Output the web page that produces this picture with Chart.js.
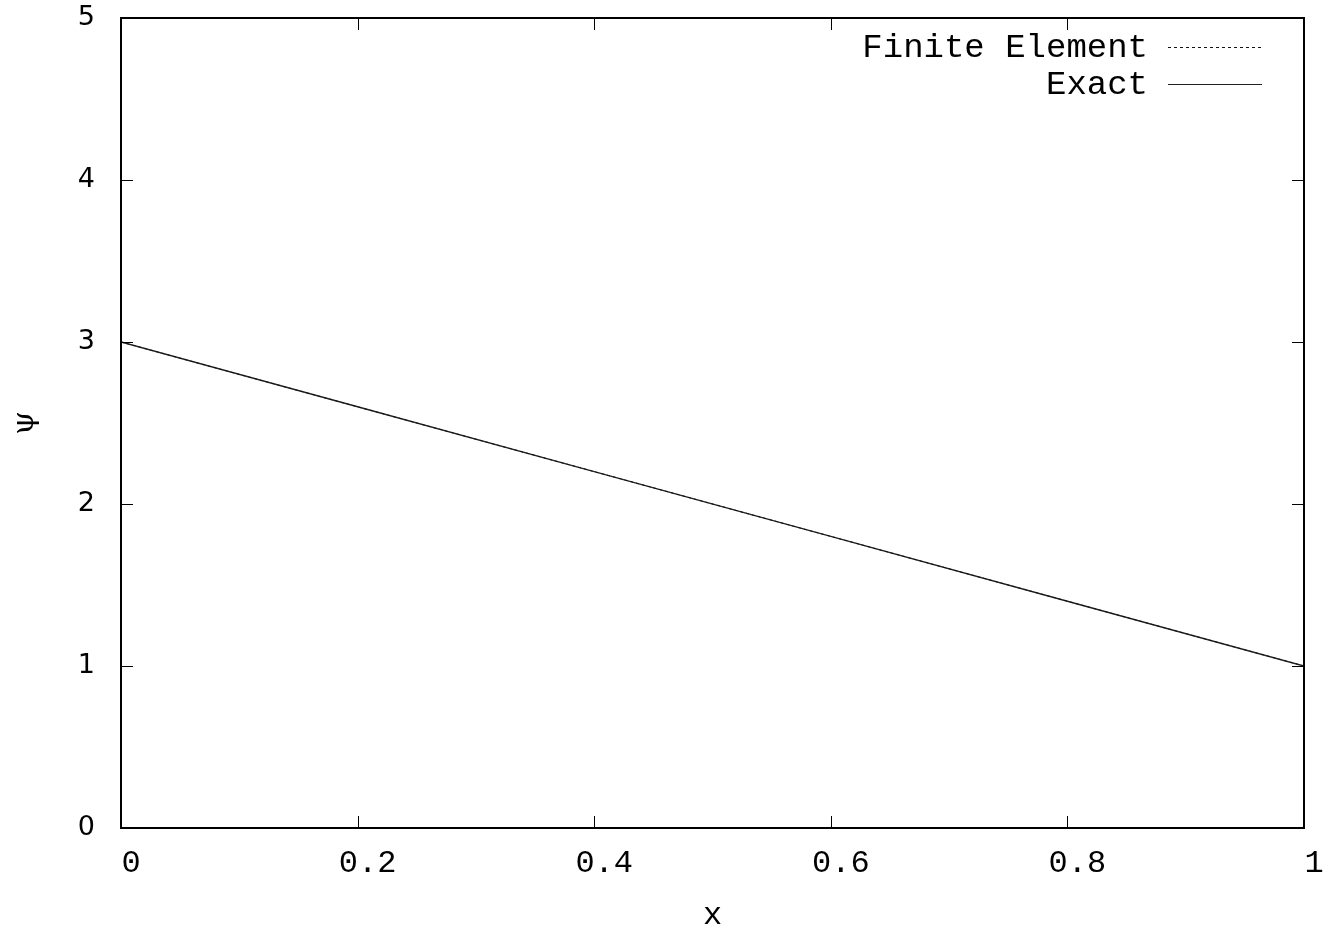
<!DOCTYPE html>
<html>
<head>
<meta charset="utf-8">
<script src="https://cdn.jsdelivr.net/npm/chart.js@4/dist/chart.umd.min.js"></script>
<style>
  html, body { margin: 0; padding: 0; background: #fff; }
  #wrap { width: 1325px; height: 928px; }
</style>
</head>
<body>
<div id="wrap"><canvas id="plot"></canvas></div>
<script>
const xNodes = [0, 0.2, 0.4, 0.6, 0.8, 1];
const finiteElement = [3, 2.6, 2.2, 1.8, 1.4, 1];
const exact = [3, 2.6, 2.2, 1.8, 1.4, 1];
const xTicks = [0, 0.2, 0.4, 0.6, 0.8, 1];
const yTicks = [0, 1, 2, 3, 4, 5];
const seriesNames = ["Finite Element", "Exact"];

const toPoints = (ys) => xNodes.map((x, i) => ({ x: x, y: ys[i] }));

// gnuplot-like frame, inward ticks on all four sides, key in the top right
const framePlugin = {
  id: "frame",
  afterDatasetsDraw(chart) {
    const { ctx, chartArea: a, scales } = chart;
    ctx.save();
    ctx.strokeStyle = "#000";
    ctx.lineWidth = 1;
    ctx.beginPath();
    xTicks.forEach((v) => {
      const px = Math.round(scales.x.getPixelForValue(v)) + 0.5;
      ctx.moveTo(px, a.bottom); ctx.lineTo(px, a.bottom - 12);
      ctx.moveTo(px, a.top); ctx.lineTo(px, a.top + 12);
    });
    yTicks.forEach((v) => {
      const py = Math.round(scales.y.getPixelForValue(v)) + 0.5;
      ctx.moveTo(a.left, py); ctx.lineTo(a.left + 12, py);
      ctx.moveTo(a.right, py); ctx.lineTo(a.right - 12, py);
    });
    ctx.stroke();
    ctx.lineWidth = 2;
    ctx.strokeRect(a.left, a.top, a.right - a.left, a.bottom - a.top);

    // key
    ctx.font = "34px 'Liberation Mono'";
    ctx.textAlign = "right";
    ctx.textBaseline = "middle";
    ctx.fillStyle = "#000";
    chart.data.datasets.forEach((ds, i) => {
      const y = a.top + 30 + i * 37;
      ctx.fillText(ds.label, a.right - 156, y);
      ctx.beginPath();
      ctx.lineWidth = 1;
      ctx.strokeStyle = ds.borderColor;
      ctx.setLineDash(ds.borderDash || []);
      ctx.moveTo(a.right - 136, y - 0.5);
      ctx.lineTo(a.right - 42, y - 0.5);
      ctx.stroke();
      ctx.setLineDash([]);
    });
    ctx.restore();
  },
};

new Chart(document.getElementById("plot"), {
  type: "scatter",
  data: {
    datasets: [
      {
        label: seriesNames[0],
        data: toPoints(finiteElement),
        showLine: true,
        borderColor: "#111",
        borderWidth: 1,
        borderDash: [3, 3],
        pointRadius: 0,
      },
      {
        label: seriesNames[1],
        data: toPoints(exact),
        showLine: true,
        borderColor: "#222",
        borderWidth: 1.4,
        pointRadius: 0,
      },
    ],
  },
  options: {
    responsive: true,
    maintainAspectRatio: false,
    animation: false,
    layout: { padding: { top: 18, right: 21, left: 0, bottom: 0 } },
    plugins: {
      legend: { display: false },
      tooltip: { enabled: false },
    },
    scales: {
      x: {
        type: "linear",
        min: 0,
        max: 1,
        afterBuildTicks: (s) => { s.ticks = xTicks.map((v) => ({ value: v })); },
        afterFit: (s) => {
          s.height = 100;
          s.paddingLeft = 0;
          s.paddingRight = 0;
        },
        grid: { display: false },
        border: { display: false },
        ticks: {
          color: "#000",
          font: { family: "Liberation Mono", size: 32 },
          padding: 8,
          labelOffset: 10,
          maxRotation: 0,
          callback: (v) => String(v),
        },
        title: {
          display: true,
          text: "x",
          color: "#000",
          font: { family: "Liberation Mono", size: 32, lineHeight: 0.75 },
          padding: { top: 0, bottom: 0 },
        },
      },
      y: {
        type: "linear",
        min: 0,
        max: 5,
        afterBuildTicks: (s) => { s.ticks = yTicks.map((v) => ({ value: v })); },
        afterFit: (s) => {
          s.width = 121;
          s.paddingTop = 0;
          s.paddingBottom = 0;
        },
        grid: { display: false },
        border: { display: false },
        ticks: {
          color: "#000",
          font: { family: "DejaVu Sans", size: 27 },
          padding: 18,
          callback: (v) => String(v),
        },
        title: {
          display: true,
          text: "ψ",
          color: "#000",
          font: { family: "DejaVu Serif", size: 30, lineHeight: 1 },
          padding: { top: 10, bottom: 0 },
        },
      },
    },
  },
  plugins: [framePlugin],
});
</script>
</body>
</html>
